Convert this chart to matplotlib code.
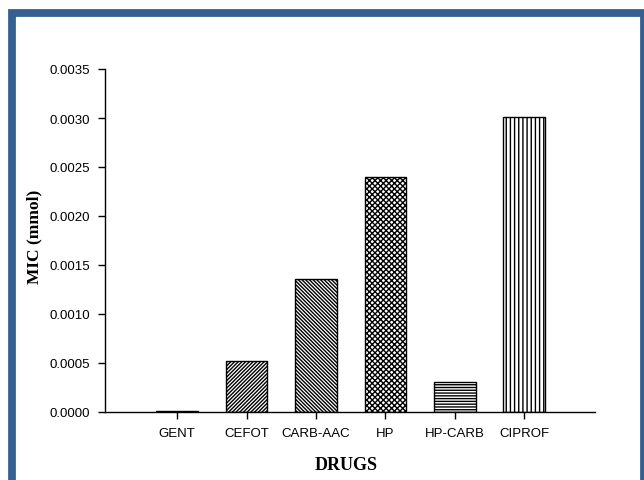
import matplotlib
matplotlib.use("Agg")
import matplotlib.pyplot as plt
from matplotlib.patches import Rectangle

drugs = ["GENT", "CEFOT", "CARB-AAC", "HP", "HP-CARB", "CIPROF"]
mic_values = [0.00001, 0.00052, 0.00136, 0.00240, 0.00031, 0.00301]
hatches = ["", "/" * 9, "\\" * 9, "x" * 6, "-" * 6, "||||"]
y_ticks = [0.0000, 0.0005, 0.0010, 0.0015, 0.0020, 0.0025, 0.0030, 0.0035]

plt.rcParams["hatch.linewidth"] = 1.0

fig = plt.figure(figsize=(6.44, 4.81), dpi=100)
ax = fig.add_axes([105 / 644, 1 - 413 / 481, 490 / 644, 343 / 481])

x = list(range(len(drugs)))
for i, (v, h) in enumerate(zip(mic_values, hatches)):
    ax.bar(i, v, width=0.6, color="white", edgecolor="black",
           linewidth=1.0, hatch=h)

ax.set_xlim(-1.04, 6.02)
ax.set_ylim(0, 0.0035)
ax.set_xticks(x)
ax.set_xticklabels(drugs, fontfamily="Liberation Sans", fontsize=9.5)
ax.set_yticks(y_ticks)
ax.set_yticklabels([f"{t:.4f}" for t in y_ticks],
                   fontfamily="Liberation Sans", fontsize=9.5)
ax.tick_params(direction="out", length=5, width=1, pad=6)

for s in ["top", "right"]:
    ax.spines[s].set_visible(False)
for s in ["left", "bottom"]:
    ax.spines[s].set_linewidth(1.0)

fig.text(34 / 644, 1 - 237 / 481, "MIC (mmol)", rotation=90,
         ha="center", va="center", fontfamily="Liberation Serif",
         fontweight="bold", fontsize=12.5)
fig.text(346 / 644, 1 - 466 / 481, "DRUGS", ha="center", va="center",
         fontfamily="Liberation Serif", fontweight="bold", fontsize=13)

# blue frame around the figure
frame = Rectangle((12 / 644, -0.05), 632 / 644, 1.05 - 13.5 / 481,
                  transform=fig.transFigure, fill=False,
                  edgecolor="#366092", linewidth=5.6, clip_on=False)
fig.patches.append(frame)

fig.savefig("out.png", dpi=100)
